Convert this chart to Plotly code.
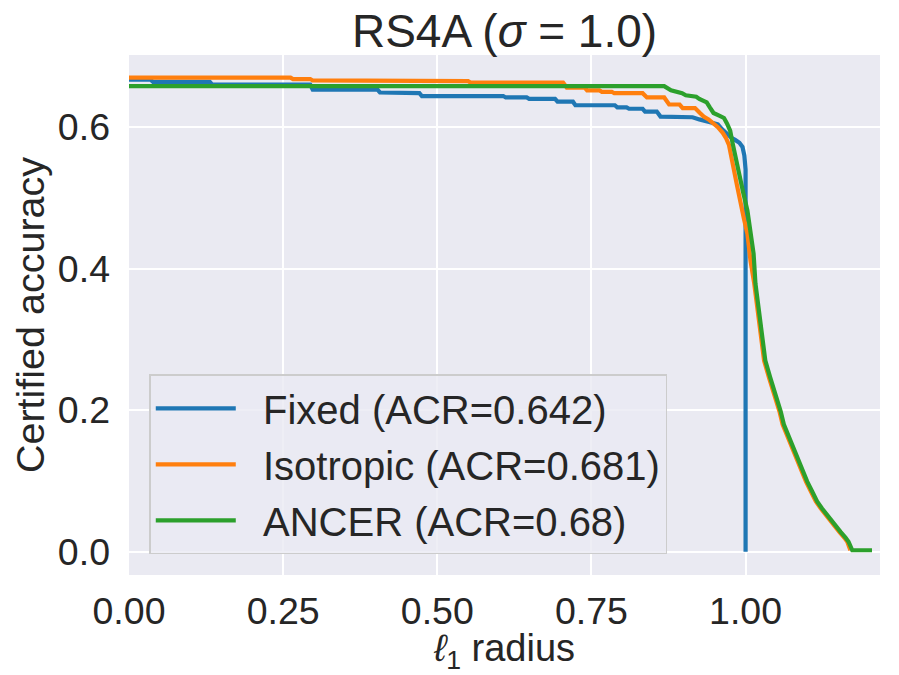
import plotly.graph_objects as go

# ---- data ----
names = ["Fixed (ACR=0.642)", "Isotropic (ACR=0.681)", "ANCER (ACR=0.68)"]
colors = ["#1f77b4", "#ff7f0e", "#2ca02c"]

fixed_x = [0.000, 0.035, 0.039, 0.131, 0.135, 0.294, 0.298, 0.403, 0.407, 0.440,
           0.444, 0.471, 0.475, 0.607, 0.611, 0.645, 0.649, 0.691, 0.695, 0.720,
           0.724, 0.788, 0.792, 0.807, 0.811, 0.833, 0.837, 0.856, 0.862, 0.914,
           0.925, 0.935, 0.948, 0.955, 0.962, 0.968, 0.977, 0.983, 0.990, 0.995,
           0.998, 1.000, 1.000]
fixed_y = [0.667, 0.667, 0.664, 0.664, 0.660, 0.660, 0.653, 0.653, 0.649, 0.649,
           0.648, 0.648, 0.644, 0.644, 0.642, 0.642, 0.640, 0.640, 0.636, 0.636,
           0.631, 0.631, 0.628, 0.628, 0.626, 0.626, 0.622, 0.622, 0.615, 0.614,
           0.611, 0.609, 0.606, 0.604, 0.597, 0.592, 0.585, 0.582, 0.578, 0.572,
           0.560, 0.540, 0.000]

iso_x = [0.000, 0.262, 0.266, 0.294, 0.298, 0.461, 0.465, 0.550, 0.554, 0.704,
         0.710, 0.739, 0.743, 0.763, 0.767, 0.783, 0.787, 0.833, 0.840, 0.868,
         0.876, 0.893, 0.898, 0.918, 0.926, 0.932, 0.940, 0.948, 0.955, 0.963,
         0.968, 0.973, 0.977, 0.981, 0.986, 0.992, 0.997, 1.003, 1.008, 1.014,
         1.020, 1.025, 1.030, 1.038, 1.049, 1.055, 1.060, 1.071, 1.082, 1.090,
         1.098, 1.106, 1.114, 1.122, 1.130, 1.140, 1.152, 1.160, 1.165, 1.170]
iso_y = [0.670, 0.670, 0.668, 0.668, 0.666, 0.666, 0.665, 0.665, 0.663, 0.663,
         0.656, 0.656, 0.652, 0.652, 0.650, 0.650, 0.648, 0.648, 0.642, 0.642,
         0.632, 0.632, 0.627, 0.627, 0.620, 0.615, 0.611, 0.605, 0.600, 0.592,
         0.585, 0.575, 0.560, 0.540, 0.518, 0.496, 0.472, 0.449, 0.411, 0.379,
         0.342, 0.307, 0.270, 0.246, 0.217, 0.198, 0.180, 0.156, 0.132, 0.116,
         0.099, 0.085, 0.071, 0.061, 0.052, 0.040, 0.028, 0.020, 0.014, 0.002]

ancer_x = [0.000, 0.868, 0.879, 0.897, 0.903, 0.920, 0.925, 0.937, 0.942, 0.948,
           0.958, 0.965, 0.970, 0.975, 0.979, 0.984, 0.990, 0.996, 1.003, 1.008,
           1.013, 1.016, 1.022, 1.027, 1.032, 1.040, 1.051, 1.057, 1.062, 1.073,
           1.084, 1.092, 1.100, 1.108, 1.116, 1.124, 1.132, 1.142, 1.154, 1.162,
           1.167, 1.173, 1.205]
ancer_y = [0.658, 0.658, 0.652, 0.648, 0.645, 0.643, 0.640, 0.635, 0.628, 0.620,
           0.616, 0.613, 0.605, 0.595, 0.577, 0.555, 0.533, 0.508, 0.482, 0.450,
           0.421, 0.379, 0.340, 0.307, 0.270, 0.246, 0.217, 0.198, 0.180, 0.156,
           0.132, 0.116, 0.099, 0.085, 0.071, 0.061, 0.052, 0.040, 0.028, 0.020,
           0.014, 0.002, 0.002]

x_ticks = [0.0, 0.25, 0.5, 0.75, 1.0]
x_tick_labels = ["0.00", "0.25", "0.50", "0.75", "1.00"]
y_ticks = [0.0, 0.2, 0.4, 0.6]
y_tick_labels = ["0.0", "0.2", "0.4", "0.6"]

series = [(fixed_x, fixed_y), (iso_x, iso_y), (ancer_x, ancer_y)]

FONT = "Liberation Sans, Arial, sans-serif"
PAD = "\u00a0\u00a0"
fig = go.Figure()
for i, ((xs, ys), name, col) in enumerate(zip(series, names, colors)):
    fig.add_trace(go.Scatter(
        x=xs, y=ys, mode="lines", name=PAD + name, legendgroup=f"g{i}",
        line=dict(color=col, width=4.2),
    ))

fig.update_layout(
    width=891, height=667,
    paper_bgcolor="white", plot_bgcolor="#EAEAF2",
    margin=dict(l=119, r=19, t=47, b=94),
    font=dict(family=FONT, color="#262626", size=37.5),
    title=dict(text="RS4A (<i>σ</i> = 1.0)", x=0.5, xref="paper", xanchor="center",
               y=0.965, yanchor="middle", font=dict(size=46, color="#262626")),
    showlegend=True,
    legend=dict(
        x=0.027, y=0.386, xanchor="left", yanchor="top",
        bgcolor="rgba(234,234,242,0.8)", bordercolor="#cccccc", borderwidth=1.5,
        font=dict(size=40, color="#262626"), tracegroupgap=1,
        itemwidth=80,
    ),
)
fig.update_xaxes(
    range=[0, 1.218], tickvals=x_ticks, ticktext=x_tick_labels,
    showgrid=True, gridcolor="white", gridwidth=2, zeroline=False,
    showline=False, ticks="", ticklabelstandoff=10,
    title=dict(text="<i>ℓ</i><sub>1</sub> radius", font=dict(size=38), standoff=5),
)
fig.update_yaxes(
    range=[-0.033, 0.702], tickvals=y_ticks, ticktext=y_tick_labels,
    showgrid=True, gridcolor="white", gridwidth=2, zeroline=False,
    showline=False, ticks="", ticklabelstandoff=18,
    title=dict(text="Certified accuracy", font=dict(size=39.5), standoff=10),
)

fig.write_html("out.html")
